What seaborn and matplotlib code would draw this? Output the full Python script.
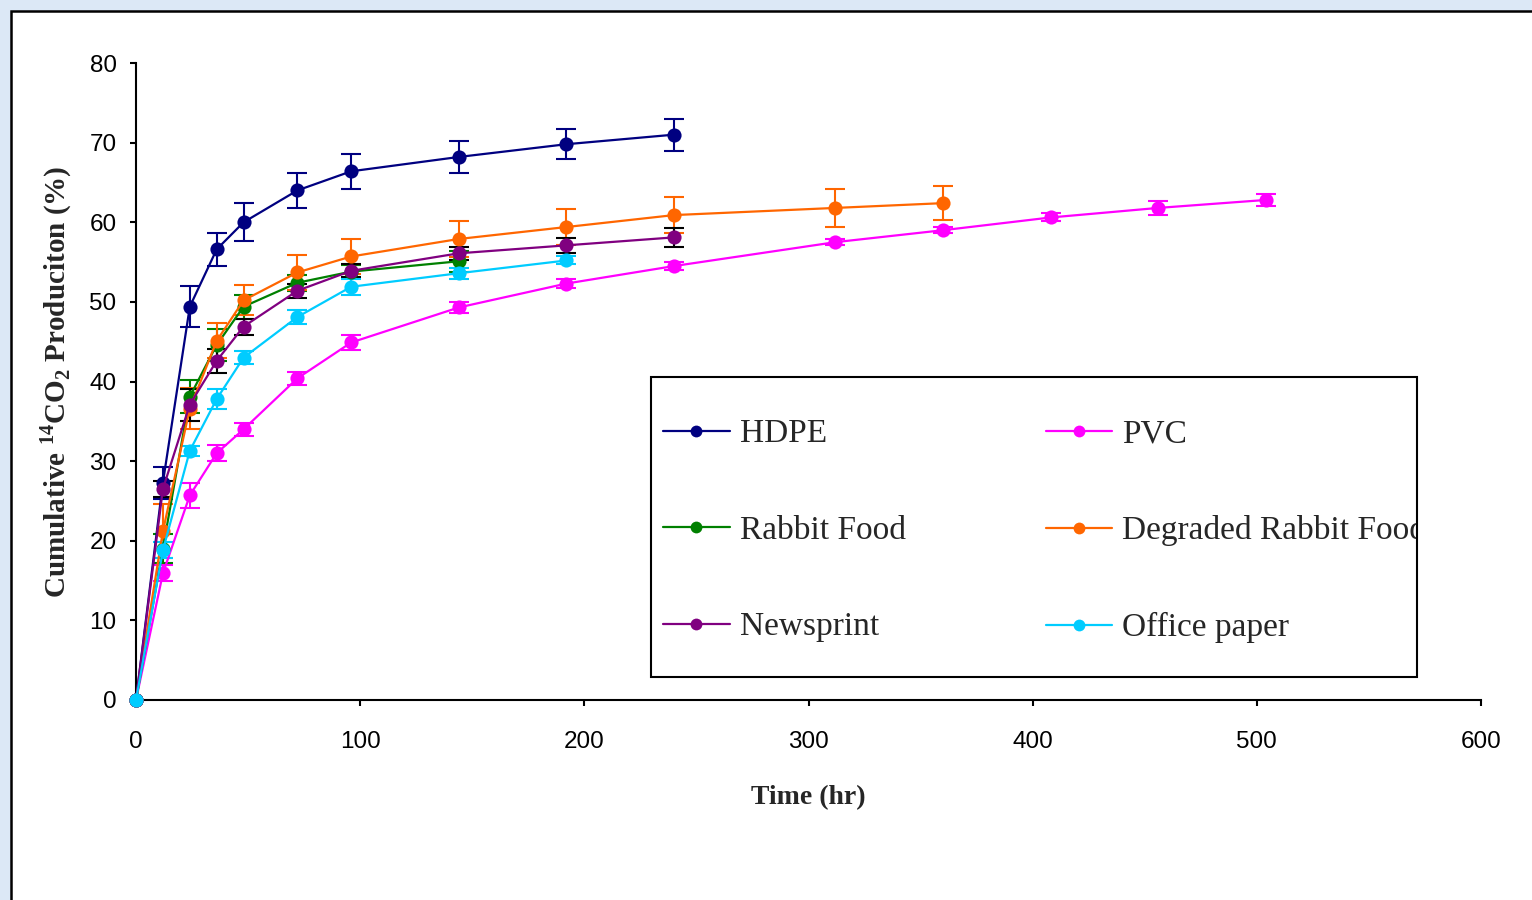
import numpy as np
import pandas as pd
import matplotlib
matplotlib.use("Agg")
import matplotlib.pyplot as plt
from matplotlib.patches import Rectangle
from matplotlib.lines import Line2D
import seaborn as sns

# ---------------- data ----------------
materials = ["HDPE", "PVC", "Rabbit Food", "Degraded Rabbit Food", "Newsprint", "Office paper"]

hdpe_t = [0, 12, 24, 36, 48, 72, 96, 144, 192, 240]
hdpe_v = [0, 27.3, 49.4, 56.6, 60.0, 64.0, 66.4, 68.2, 69.8, 71.0]
hdpe_e = [0, 2.0, 2.6, 2.1, 2.4, 2.2, 2.2, 2.0, 1.9, 2.0]

pvc_t = [0, 12, 24, 36, 48, 72, 96, 144, 192, 240, 312, 360, 408, 456, 504]
pvc_v = [0, 15.9, 25.7, 31.0, 34.0, 40.4, 44.9, 49.3, 52.3, 54.5, 57.5, 59.0, 60.6, 61.8, 62.8]
pvc_e = [0, 1.0, 1.6, 1.0, 0.8, 0.8, 1.0, 0.7, 0.6, 0.5, 0.4, 0.4, 0.5, 0.9, 0.7]

rabbit_t = [0, 12, 24, 36, 48, 72, 96, 144]
rabbit_v = [0, 19.0, 38.1, 44.6, 49.4, 52.4, 53.8, 55.1]
rabbit_e = [0, 1.8, 2.1, 2.0, 1.5, 1.0, 0.8, 1.3]

degraded_t = [0, 12, 24, 36, 48, 72, 96, 144, 192, 240, 312, 360]
degraded_v = [0, 21.2, 36.6, 45.1, 50.2, 53.7, 55.7, 57.9, 59.4, 60.9, 61.8, 62.4]
degraded_e = [0, 3.4, 2.6, 2.2, 1.9, 2.2, 2.2, 2.3, 2.3, 2.3, 2.4, 2.1]

news_t = [0, 12, 24, 36, 48, 72, 96, 144, 192, 240]
news_v = [0, 26.5, 37.1, 42.6, 46.9, 51.4, 53.9, 56.1, 57.1, 58.1]
news_e = [0, 1.0, 2.0, 1.5, 1.0, 0.9, 0.8, 0.8, 0.9, 1.2]

office_t = [0, 12, 24, 36, 48, 72, 96, 144, 192]
office_v = [0, 18.8, 31.3, 37.8, 43.0, 48.1, 51.9, 53.6, 55.2]
office_e = [0, 1.0, 0.6, 1.2, 0.8, 0.85, 1.0, 0.7, 0.5]

x_ticks = [0, 100, 200, 300, 400, 500, 600]
y_ticks = [0, 10, 20, 30, 40, 50, 60, 70, 80]

colors = {
    "HDPE": "#000080",
    "PVC": "#ff00ff",
    "Rabbit Food": "#008000",
    "Degraded Rabbit Food": "#ff6600",
    "Newsprint": "#800080",
    "Office paper": "#00ccff",
}
err_colors = dict(colors)
err_colors["Newsprint"] = "#000000"

series = {
    "HDPE": (hdpe_t, hdpe_v, hdpe_e),
    "PVC": (pvc_t, pvc_v, pvc_e),
    "Rabbit Food": (rabbit_t, rabbit_v, rabbit_e),
    "Degraded Rabbit Food": (degraded_t, degraded_v, degraded_e),
    "Newsprint": (news_t, news_v, news_e),
    "Office paper": (office_t, office_v, office_e),
}

rows = []
for m in materials:
    t, v, e = series[m]
    for ti, vi, ei in zip(t, v, e):
        rows.append({"Time": ti, "Value": vi, "Err": ei, "Material": m})
df = pd.DataFrame(rows)

# ---------------- style ----------------
sns.set_style("ticks")
plt.rcParams["font.family"] = ["Liberation Sans", "DejaVu Sans"]
plt.rcParams["mathtext.fontset"] = "custom"
plt.rcParams["mathtext.rm"] = "Liberation Serif:bold"
plt.rcParams["mathtext.bf"] = "Liberation Serif:bold"

fig = plt.figure(figsize=(15.32, 9.0), dpi=100)
fig.patch.set_facecolor("#dce8f6")
panel = Rectangle((11 / 1532, -0.05), 1.2, 1 - 11 / 900 + 0.05, transform=fig.transFigure,
                  facecolor="white", edgecolor="black", linewidth=1.8, zorder=-10)
fig.patches.append(panel)

ax = fig.add_axes([136 / 1532, 1 - 700 / 900, (1481 - 136) / 1532, (700 - 63) / 900])
ax.set_facecolor("none")

# error bars
for i, m in enumerate(materials):
    sub = df[df["Material"] == m].iloc[1:]
    ax.errorbar(sub["Time"], sub["Value"], yerr=sub["Err"], fmt="none",
                ecolor=err_colors[m], elinewidth=1.5, capsize=7, capthick=1.5,
                zorder=2 + i * 0.1, clip_on=False)

sns.lineplot(data=df, x="Time", y="Value", hue="Material", hue_order=materials,
             palette=colors, marker="o", markersize=10.2, markeredgewidth=0,
             linewidth=1.6, estimator=None, sort=False, legend=False, ax=ax,
             clip_on=False, zorder=3)

ax.set_xlim(0, 600)
ax.set_ylim(0, 80)
ax.set_xticks(x_ticks)
ax.set_yticks(y_ticks)
ax.tick_params(axis="both", direction="out", length=4.5, width=1.5, colors="black",
               labelsize=17.5)
ax.tick_params(axis="x", pad=18)
ax.tick_params(axis="y", pad=9.5)
for s in ["top", "right"]:
    ax.spines[s].set_visible(False)
for s in ["left", "bottom"]:
    ax.spines[s].set_linewidth(1.5)
    ax.spines[s].set_color("black")

ax.set_xlabel("Time (hr)", fontfamily="Liberation Serif", fontweight="bold", fontsize=20)
ax.xaxis.set_label_coords(0.5, -0.133)
ax.set_ylabel(r"Cumulative $^{\mathbf{14}}$CO$_{\mathbf{2}}$ Produciton (%)",
              fontfamily="Liberation Serif", fontweight="bold", fontsize=21)
ax.yaxis.set_label_coords(-0.046, 0.5)

# legend
frame = Rectangle((0.3829, 0.0361), 0.5695, 0.471, transform=ax.transAxes,
                  facecolor="white", edgecolor="black", linewidth=1.5, zorder=6,
                  fill=False, clip_on=False)
bg = Rectangle((0.3829, 0.0361), 0.5695, 0.471, transform=ax.transAxes,
               facecolor="white", edgecolor="none", zorder=4, clip_on=False)
ax.add_patch(bg)
ax.add_patch(frame)
handles = {m: Line2D([0], [0], color=colors[m], marker="o", markersize=8.5,
                     markeredgewidth=0, linewidth=1.6) for m in materials}
order = ["HDPE", "Rabbit Food", "Newsprint", "PVC", "Degraded Rabbit Food", "Office paper"]
leg = ax.legend([handles[m] for m in order], order, ncol=2, frameon=False,
                loc="center left", bbox_to_anchor=((663 - 136) / 1345, (700 - 531) / 637),
                borderpad=0, borderaxespad=0, handlelength=2.0, handletextpad=0.3,
                labelspacing=1.98, columnspacing=4.2,
                prop={"family": "Liberation Serif", "size": 24})
leg.set_zorder(5)
for txt in leg.get_texts():
    txt.set_clip_path(bg)

fig.savefig("out.png", dpi=100, facecolor=fig.get_facecolor())
